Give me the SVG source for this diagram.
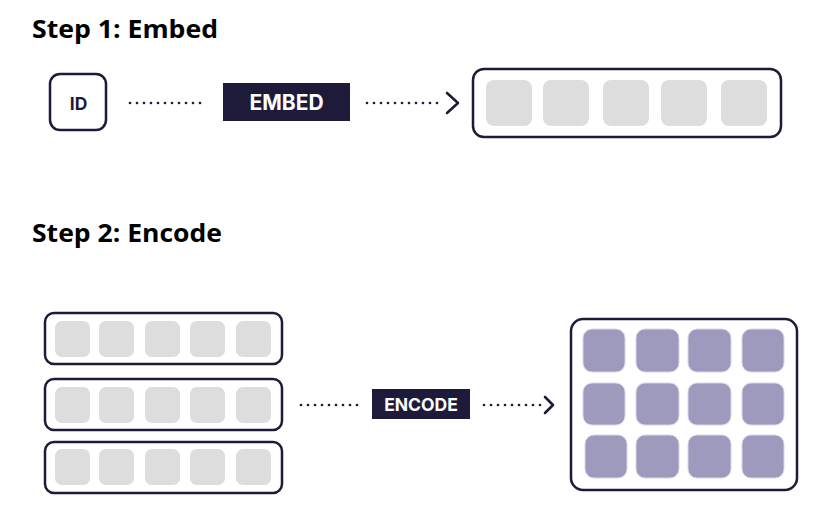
<svg xmlns="http://www.w3.org/2000/svg" width="838" height="510" viewBox="0 0 838 510">
<style>
.title{font-family:"Open Sans","Liberation Sans",sans-serif;font-weight:700;font-size:25px;fill:#000}
.box{fill:#fff;stroke:#1e1b3a;stroke-width:2.5}
.cell{fill:#dddddd}
.pcell{fill:#9e9abd;stroke:#d8d6e6;stroke-width:1}
.lbl{fill:#1e1b3a}
.lbltxt{font-family:Inter,"Liberation Sans",sans-serif;font-weight:700;fill:#fff;text-anchor:middle}
.dots{fill:none;stroke:#1e1b3a;stroke-width:2.7;stroke-linecap:round;stroke-dasharray:0 7}
.chev{fill:none;stroke:#1e1b3a;stroke-width:2.6;stroke-linecap:round;stroke-linejoin:round}
</style>
<rect width="838" height="510" fill="#fff"/>
<text class="title" x="32" y="38" textLength="186" lengthAdjust="spacingAndGlyphs">Step 1: Embed</text>
<text class="title" x="32" y="242" textLength="190" lengthAdjust="spacingAndGlyphs">Step 2: Encode</text>

<g id="id-node">
<rect class="box" x="50" y="74" width="56" height="56" rx="10"/>
<text x="78.5" y="109.5" font-family="Inter,'Liberation Sans',sans-serif" font-weight="700" font-size="17.5" fill="#1e1b3a" text-anchor="middle">ID</text>
</g>

<g id="embed-label">
<rect class="lbl" x="223" y="83" width="127" height="38"/>
<text class="lbltxt" x="286.5" y="110" font-size="21">EMBED</text>
</g>

<g id="embedding">
<rect class="box" x="473" y="69" width="308" height="68" rx="11"/>
<rect class="cell" x="486" y="80" width="46" height="46" rx="8"/>
<rect class="cell" x="543" y="80" width="46" height="46" rx="8"/>
<rect class="cell" x="603" y="80" width="46" height="46" rx="8"/>
<rect class="cell" x="661" y="80" width="46" height="46" rx="8"/>
<rect class="cell" x="721" y="80" width="46" height="46" rx="8"/>
</g>

<g id="seq-1">
<rect class="box" x="45" y="313" width="237" height="51" rx="9"/>
<rect class="cell" x="55" y="321" width="35" height="36" rx="7"/>
<rect class="cell" x="99" y="321" width="35" height="36" rx="7"/>
<rect class="cell" x="145" y="321" width="35" height="36" rx="7"/>
<rect class="cell" x="190" y="321" width="35" height="36" rx="7"/>
<rect class="cell" x="236" y="321" width="35" height="36" rx="7"/>
</g>
<g id="seq-2">
<rect class="box" x="45" y="379" width="237" height="51" rx="9"/>
<rect class="cell" x="55" y="387" width="35" height="36" rx="7"/>
<rect class="cell" x="99" y="387" width="35" height="36" rx="7"/>
<rect class="cell" x="145" y="387" width="35" height="36" rx="7"/>
<rect class="cell" x="190" y="387" width="35" height="36" rx="7"/>
<rect class="cell" x="236" y="387" width="35" height="36" rx="7"/>
</g>
<g id="seq-3">
<rect class="box" x="45" y="442" width="237" height="51" rx="9"/>
<rect class="cell" x="55" y="449" width="35" height="36" rx="7"/>
<rect class="cell" x="99" y="449" width="35" height="36" rx="7"/>
<rect class="cell" x="145" y="449" width="35" height="36" rx="7"/>
<rect class="cell" x="190" y="449" width="35" height="36" rx="7"/>
<rect class="cell" x="236" y="449" width="35" height="36" rx="7"/>
</g>

<g id="encode-label">
<rect class="lbl" x="372" y="389" width="98" height="30"/>
<text class="lbltxt" x="421" y="411" font-size="17.5">ENCODE</text>
</g>

<g id="encoded">
<rect class="box" x="571" y="319" width="226" height="171" rx="12"/>
<rect class="pcell" x="583" y="329" width="42" height="43" rx="9"/>
<rect class="pcell" x="636" y="329" width="43" height="43" rx="9"/>
<rect class="pcell" x="688" y="329" width="43" height="43" rx="9"/>
<rect class="pcell" x="742" y="329" width="42" height="43" rx="9"/>
<rect class="pcell" x="583" y="383" width="42" height="42" rx="9"/>
<rect class="pcell" x="636" y="383" width="43" height="42" rx="9"/>
<rect class="pcell" x="688" y="383" width="43" height="42" rx="9"/>
<rect class="pcell" x="742" y="383" width="42" height="42" rx="9"/>
<rect class="pcell" x="585" y="435" width="42" height="43" rx="9"/>
<rect class="pcell" x="636" y="435" width="43" height="43" rx="9"/>
<rect class="pcell" x="688" y="435" width="43" height="43" rx="9"/>
<rect class="pcell" x="742" y="435" width="42" height="43" rx="9"/>
</g>

<g id="connectors">
<path class="dots" d="M130 103 H205"/>
<path class="dots" d="M367 103 H442"/>
<path class="chev" d="M447 93 L458 103 L447 113"/>
<path class="dots" d="M301 405 H359"/>
<path class="dots" d="M484 405 H541"/>
<path class="chev" d="M545 397 L553 405 L545 413"/>
</g>
</svg>
